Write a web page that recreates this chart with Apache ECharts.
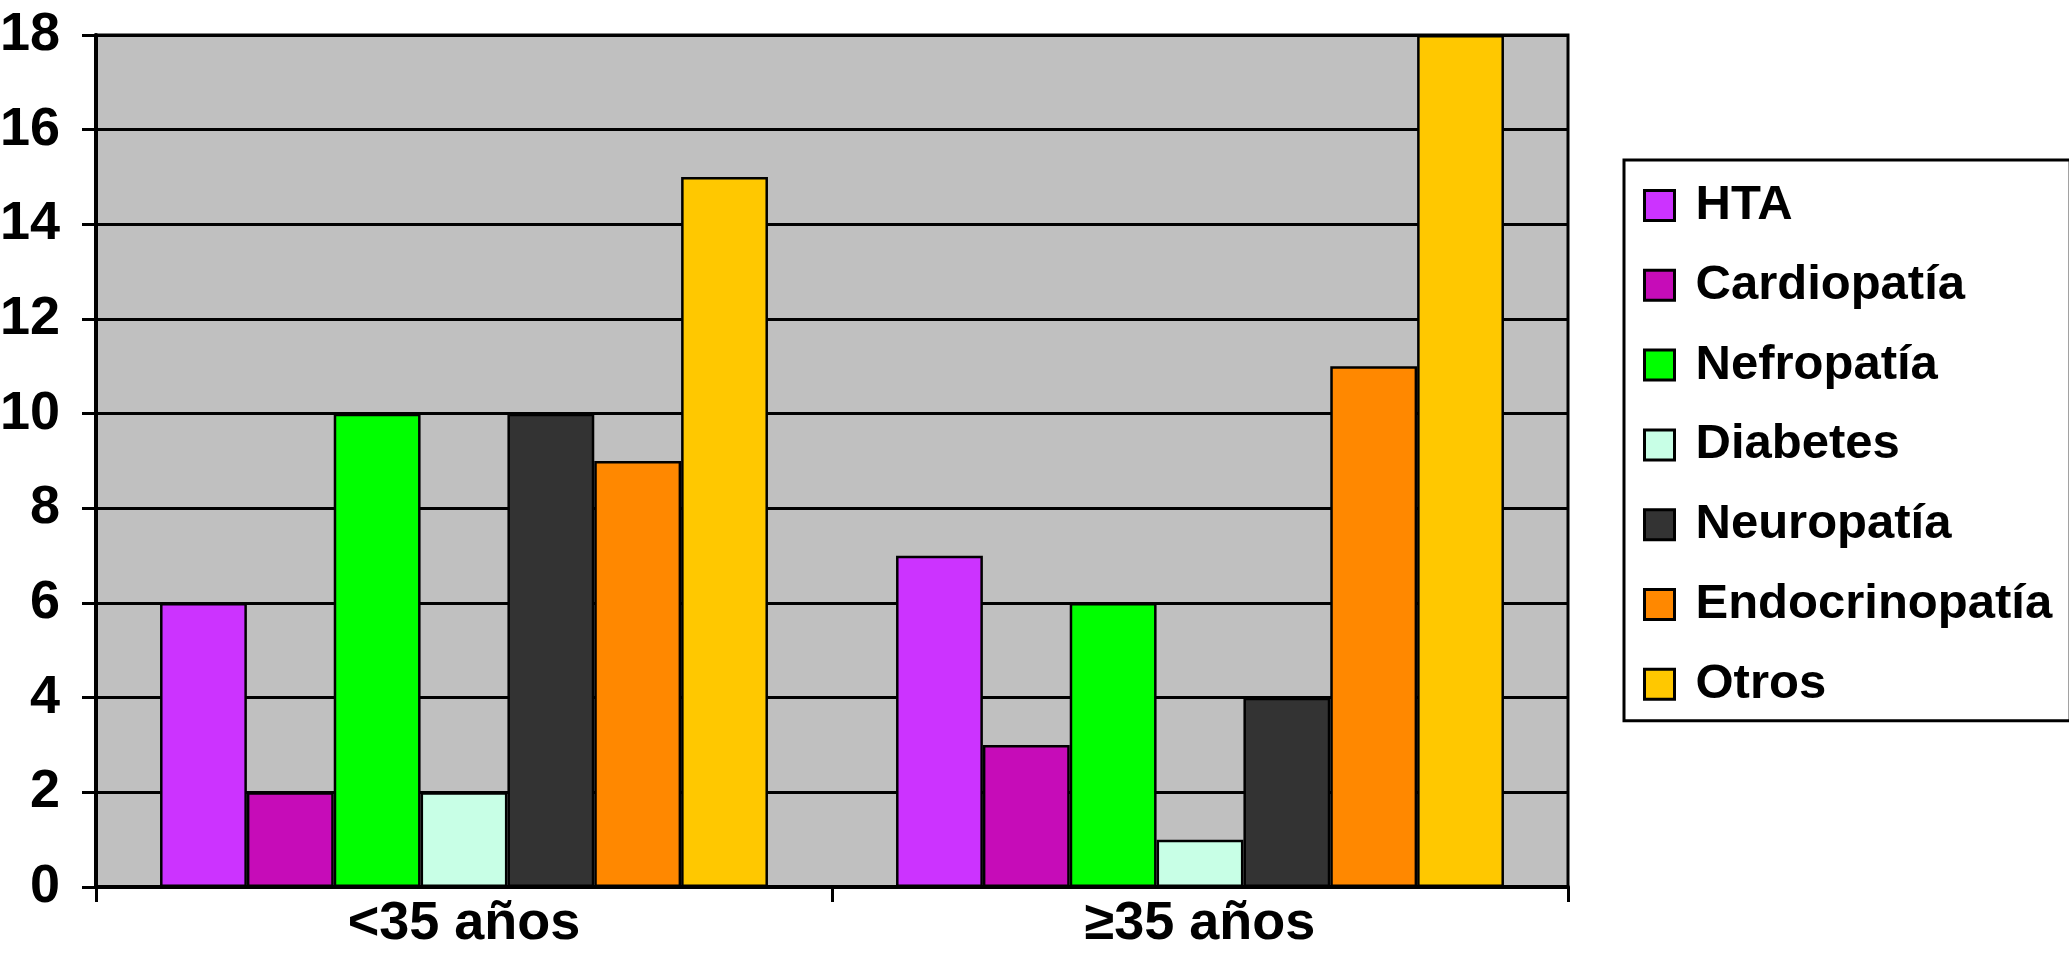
<!DOCTYPE html>
<html><head><meta charset="utf-8">
<script src="https://cdn.jsdelivr.net/npm/echarts@6/dist/echarts.min.js"></script>
<style>html,body{margin:0;padding:0;background:#fff}#c{width:2069px;height:972px}</style>
</head><body><div id="c"></div>
<script>
const categories = ['<35 años', '≥35 años'];
const seriesNames = ['HTA', 'Cardiopatía', 'Nefropatía', 'Diabetes', 'Neuropatía', 'Endocrinopatía', 'Otros'];
const HTA = [6, 7];
const Cardiopatia = [2, 3];
const Nefropatia = [10, 6];
const Diabetes = [2, 1];
const Neuropatia = [10, 4];
const Endocrinopatia = [9, 11];
const Otros = [15, 18];
const seriesData = [HTA, Cardiopatia, Nefropatia, Diabetes, Neuropatia, Endocrinopatia, Otros];
const colors = ['#CC33FF', '#C60CB8', '#00FF00', '#C8FFE6', '#333333', '#FF8800', '#FFC800'];

const FONT = '"Liberation Sans", Arial, sans-serif';
const chart = echarts.init(document.getElementById('c'), null, {renderer: 'canvas'});
chart.setOption({
  animation: false,
  backgroundColor: '#ffffff',
  textStyle: {fontFamily: FONT},
  grid: {left: 96, right: 501, top: 35, bottom: 85, containLabel: false, outerBoundsMode: 'none', show: true, backgroundColor: '#C0C0C0', borderColor: '#000', borderWidth: 3},
  legend: {
    orient: 'vertical', left: 1624, top: 160,
    padding: [21, 18, 12, 19],
    backgroundColor: '#fff', borderColor: '#000', borderWidth: 3,
    itemWidth: 30, itemHeight: 30, itemGap: 30.8,
    icon: 'rect',
    itemStyle: {borderColor: '#000', borderWidth: 3},
    textStyle: {fontSize: 49, fontWeight: 'bold', color: '#000', fontFamily: FONT, lineHeight: 48, padding: [0, 0, 0, 16]},
    data: seriesNames
  },
  xAxis: {
    type: 'category', data: categories, boundaryGap: true,
    axisLine: {lineStyle: {color: '#000', width: 4}},
    axisTick: {show: true, length: 15, inside: false, lineStyle: {color: '#000', width: 3}},
    axisLabel: {fontSize: 54, fontWeight: 'bold', color: '#000', margin: 10, fontFamily: FONT},
    splitLine: {show: false}
  },
  yAxis: {
    type: 'value', min: 0, max: 18, interval: 2,
    axisLine: {show: true, lineStyle: {color: '#000', width: 4}},
    axisTick: {show: true, length: 14, inside: false, lineStyle: {color: '#000', width: 3}},
    axisLabel: {fontSize: 54, fontWeight: 'bold', color: '#000', margin: 36, fontFamily: FONT},
    splitLine: {show: true, lineStyle: {color: '#000', width: 3}}
  },
  series: seriesNames.map((n, i) => ({
    name: n, type: 'bar', data: seriesData[i],
    barGap: '0%', barCategoryGap: '17.4%',
    itemStyle: {color: colors[i], borderColor: '#000', borderWidth: 2.5}
  }))
});
</script></body></html>
